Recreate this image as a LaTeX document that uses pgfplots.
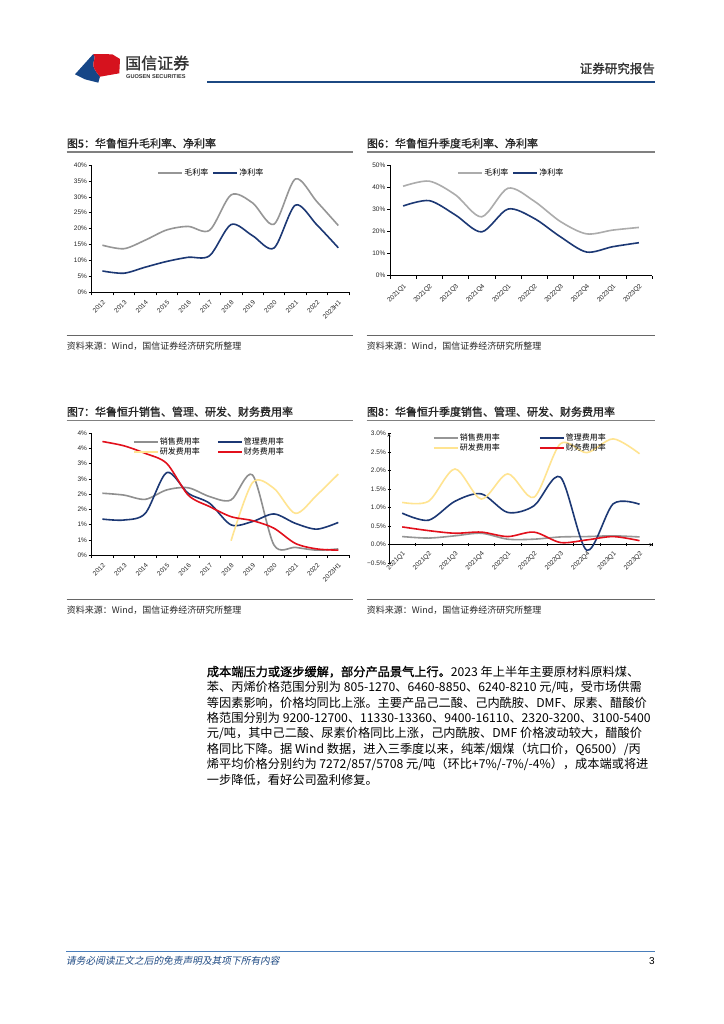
\documentclass[border=0pt]{standalone}
\usepackage{fontspec}
\setmainfont{Liberation Sans}
\newfontfamily\cjk{Noto Sans CJK SC}
\newfontfamily\cjkb[FakeBold=1.2]{Noto Sans CJK SC}
\newfontfamily\cjki[FakeSlant=0.2]{Noto Sans CJK SC}
\usepackage{pgfplots}
\pgfplotsset{compat=1.18}
\definecolor{navy}{RGB}{28,56,116}
\definecolor{gA}{RGB}{150,150,150}
\definecolor{gB}{RGB}{172,172,172}
\definecolor{yel}{RGB}{255,228,145}
\definecolor{redd}{RGB}{226,16,28}
\definecolor{hdrblue}{RGB}{28,72,130}
\definecolor{ftblue}{RGB}{74,126,187}
\definecolor{lgblue}{RGB}{22,70,135}
\definecolor{lgred}{RGB}{214,18,30}
\pgfplotsset{
 rep/.style={
  scale only axis, anchor=south west, clip=false,
  axis lines=left, axis line style={-, black, line width=0.5bp},
  tick align=outside,
  major tick length=3bp, minor tick length=3bp,
  major x tick style={draw=none},
  minor x tick style={black, line width=0.5bp},
  y tick style={black, line width=0.5bp},
  tick label style={font=\fontsize{6.5bp}{7bp}\selectfont, text=black!85},
  /pgf/number format/assume math mode=true,
  xticklabel style={rotate=45, anchor=north east, inner sep=1bp},
  xticklabel shift=3bp,
  yticklabel style={inner sep=1.5bp},
  every axis plot/.append style={line width=1.6bp, smooth, tension=0.5, mark=none},
  legend style={draw=none, fill=none, font=\cjk\fontsize{8bp}{8.5bp}\selectfont,
    inner sep=0bp, nodes={inner sep=1bp}},
  legend cell align=left,
  legend image code/.code={\draw[##1, line width=2bp] (0bp,0bp) -- (24bp,0bp);},
 }
}
\begin{document}
\begin{tikzpicture}[x=1bp,y=1bp]
\path[use as bounding box, fill=white] (0,0) rectangle (724,-1024);
% ---------- header ----------
\fill[lgblue] (75,-74.3) -- (93.3,-54) .. controls (97,-58) and (92,-62) .. (93.3,-66) .. controls (94.5,-70) and (97,-73) .. (100,-76.7) -- (98.3,-82.7) -- (85,-79.3) -- cycle;
\fill[lgred] (93.3,-54) -- (112.3,-54.3) -- (120,-59) -- (119.3,-73.3) -- (100,-76.7) .. controls (97,-73) and (94.5,-70) .. (93.3,-66) .. controls (92,-62) and (97,-58) .. (93.3,-54) -- cycle;
\node[anchor=west, inner sep=0, text=black!80] at (125,-63) {\cjkb\fontsize{16bp}{17bp}\selectfont 国信证券};
\node[anchor=west, inner sep=0, text=black!80] at (126,-76.5) {\fontsize{5.6bp}{6bp}\selectfont\bfseries GUOSEN SECURITIES};
\draw[hdrblue, line width=2bp] (207,-82) -- (655,-82);
\node[anchor=east, inner sep=0, text=black!80] at (655,-68.5) {\cjkb\fontsize{12.5bp}{13bp}\selectfont 证券研究报告};
% ---------- titles and sources ----------
\node[anchor=west, inner sep=0, text=black!85] at (66.7,-143.3) {\cjkb\fontsize{11bp}{12bp}\selectfont 图5：华鲁恒升毛利率、净利率};
\node[anchor=west, inner sep=0, text=black!85] at (366.7,-143.3) {\cjkb\fontsize{11bp}{12bp}\selectfont 图6：华鲁恒升季度毛利率、净利率};
\node[anchor=west, inner sep=0, text=black!85] at (66.7,-411.7) {\cjkb\fontsize{11bp}{12bp}\selectfont 图7：华鲁恒升销售、管理、研发、财务费用率};
\node[anchor=west, inner sep=0, text=black!85] at (366.7,-411.7) {\cjkb\fontsize{11bp}{12bp}\selectfont 图8：华鲁恒升季度销售、管理、研发、财务费用率};
\draw[black!50, line width=1.5bp] (66.7,-152) -- (352.7,-152);
\draw[black!50, line width=1.5bp] (366.7,-152) -- (655,-152);
\draw[black!50, line width=1.5bp] (66.7,-420.7) -- (352.7,-420.7);
\draw[black!50, line width=1.5bp] (366.7,-420.7) -- (655,-420.7);
\draw[black!60, line width=0.7bp] (66.7,-335.3) -- (352.7,-335.3);
\draw[black!60, line width=0.7bp] (366.7,-335.3) -- (655,-335.3);
\draw[black!60, line width=0.7bp] (66.7,-599.3) -- (352.7,-599.3);
\draw[black!60, line width=0.7bp] (366.7,-599.3) -- (655,-599.3);
\foreach \xx/\yy in {66.7/-346, 366.7/-346, 66.7/-610, 366.7/-610}
  \node[anchor=west, inner sep=0, text=black!85] at (\xx,\yy) {\cjk\fontsize{9bp}{10bp}\selectfont 资料来源：Wind，国信证券经济研究所整理};
% ---------- chart 5 ----------
\begin{axis}[rep, at={(91.7bp,-292.3bp)}, width=257.3bp, height=127.3bp,
  xmin=-0.5, xmax=11.5, ymin=0, ymax=40,
  xtick={0,...,11}, minor xtick={-0.5,0.5,...,11.5},
  xticklabels={2012,2013,2014,2015,2016,2017,2018,2019,2020,2021,2022,2023H1},
  ytick={0,5,...,40}, yticklabels={0\%,5\%,10\%,15\%,20\%,25\%,30\%,35\%,40\%},
  legend columns=2, legend style={at={(0.254,0.94)}, anchor=west,
    /tikz/every even column/.append style={column sep=3bp}}]
\addplot[gA] coordinates {(0,14.8) (1,13.7) (2,16.4) (3,19.6) (4,20.7) (5,19.5) (6,30.6) (7,28.1) (8,21.4) (9,35.6) (10,28.5) (11,21.0)};
\addlegendentry{毛利率}
\addplot[navy] coordinates {(0,6.7) (1,6.0) (2,7.9) (3,9.7) (4,11.0) (5,11.5) (6,21.3) (7,17.8) (8,13.9) (9,27.4) (10,21.2) (11,14.0)};
\addlegendentry{净利率}
\end{axis}
% ---------- chart 6 ----------
\begin{axis}[rep, at={(390bp,-275.7bp)}, width=262bp, height=110.7bp,
  xmin=-0.5, xmax=9.5, ymin=0, ymax=50,
  xtick={0,...,9}, minor xtick={-0.5,0.5,...,9.5},
  xticklabels={2021Q1,2021Q2,2021Q3,2021Q4,2022Q1,2022Q2,2022Q3,2022Q4,2023Q1,2023Q2},
  ytick={0,10,...,50}, yticklabels={0\%,10\%,20\%,30\%,40\%,50\%},
  legend columns=2, legend style={at={(0.256,0.93)}, anchor=west,
    /tikz/every even column/.append style={column sep=3bp}}]
\addplot[gB] coordinates {(0,40.4) (1,42.7) (2,36.5) (3,26.6) (4,39.5) (5,33.7) (6,24.5) (7,18.9) (8,20.6) (9,21.8)};
\addlegendentry{毛利率}
\addplot[navy] coordinates {(0,31.5) (1,33.9) (2,27.4) (3,19.8) (4,30.1) (5,25.9) (6,17.6) (7,10.7) (8,13.1) (9,14.9)};
\addlegendentry{净利率}
\end{axis}
% ---------- chart 7 ----------
\begin{axis}[rep, at={(91.7bp,-555bp)}, width=257.3bp, height=121.7bp,
  xmin=-0.5, xmax=11.5, ymin=0, ymax=4,
  xtick={0,...,11}, minor xtick={-0.5,0.5,...,11.5},
  xticklabels={2012,2013,2014,2015,2016,2017,2018,2019,2020,2021,2022,2023H1},
  ytick={0,0.5,...,4}, yticklabels={0\%,1\%,1\%,2\%,2\%,3\%,3\%,4\%,4\%},
  legend columns=2, legend style={at={(0.159,0.931)}, anchor=north west, yshift=5bp,
    /tikz/every even column/.append style={column sep=16bp}}]
\addplot[gA!95!black] coordinates {(0,2.03) (1,1.97) (2,1.83) (3,2.14) (4,2.21) (5,1.92) (6,1.81) (7,2.63) (8,0.33) (9,0.25) (10,0.16) (11,0.20)};
\addlegendentry{销售费用率}
\addplot[navy] coordinates {(0,1.18) (1,1.15) (2,1.37) (3,2.71) (4,2.03) (5,1.70) (6,0.99) (7,1.10) (8,1.35) (9,1.04) (10,0.85) (11,1.07)};
\addlegendentry{管理费用率}
\addplot[yel] coordinates {(6,0.47) (7,2.38) (8,2.19) (9,1.37) (10,1.97) (11,2.66)};
\addlegendentry{研发费用率}
\addplot[redd] coordinates {(0,3.73) (1,3.59) (2,3.34) (3,3.01) (4,1.97) (5,1.59) (6,1.26) (7,1.13) (8,0.88) (9,0.38) (10,0.20) (11,0.16)};
\addlegendentry{财务费用率}
\end{axis}
% ---------- chart 8 ----------
\begin{axis}[rep, at={(389bp,-563.3bp)}, width=263.7bp, height=130bp,
  axis x line=middle, axis y line=left,
  xmin=-0.5, xmax=9.5, ymin=-0.5, ymax=3,
  xtick={0,...,9}, minor xtick={-0.5,0.5,...,9.5},
  xticklabels={2021Q1,2021Q2,2021Q3,2021Q4,2022Q1,2022Q2,2022Q3,2022Q4,2023Q1,2023Q2},
  ytick={-0.5,0,...,3}, yticklabels={−0.5\%,0.0\%,0.5\%,1.0\%,1.5\%,2.0\%,2.5\%,3.0\%},
  legend columns=2, legend style={at={(0.166,0.992)}, anchor=north west, yshift=2bp,
    /tikz/every even column/.append style={column sep=38bp}}]
\addplot[gA] coordinates {(0,0.22) (1,0.18) (2,0.24) (3,0.31) (4,0.15) (5,0.15) (6,0.21) (7,0.22) (8,0.24) (9,0.21)};
\addlegendentry{销售费用率}
\addplot[navy] coordinates {(0,0.85) (1,0.66) (2,1.17) (3,1.37) (4,0.87) (5,1.05) (6,1.82) (7,-0.15) (8,1.10) (9,1.09)};
\addlegendentry{管理费用率}
\addplot[yel] coordinates {(0,1.14) (1,1.17) (2,2.04) (3,1.23) (4,1.91) (5,1.28) (6,2.72) (7,2.48) (8,2.85) (9,2.45)};
\addlegendentry{研发费用率}
\addplot[redd] coordinates {(0,0.48) (1,0.38) (2,0.31) (3,0.34) (4,0.22) (5,0.34) (6,0.06) (7,0.13) (8,0.22) (9,0.11)};
\addlegendentry{财务费用率}
\end{axis}
% ---------- body text ----------
\begin{scope}[every node/.style={anchor=west, inner sep=0, text=black}]
\node at (206.7,-671.7) {\fontsize{12.2bp}{14bp}\selectfont{\cjkb 成本端压力或逐步缓解，部分产品景气上行。}\cjk 2023 年上半年主要原材料原料煤、};
\node at (206.7,-687.3) {\cjk\fontsize{12.2bp}{14bp}\selectfont 苯、丙烯价格范围分别为 805-1270、6460-8850、6240-8210 元/吨，受市场供需};
\node at (206.7,-702.7) {\cjk\fontsize{12.2bp}{14bp}\selectfont 等因素影响，价格均同比上涨。主要产品己二酸、己内酰胺、DMF、尿素、醋酸价};
\node at (206.7,-718.3) {\cjk\fontsize{12.2bp}{14bp}\selectfont 格范围分别为 9200-12700、11330-13360、9400-16110、2320-3200、3100-5400};
\node at (206.7,-733.7) {\cjk\fontsize{12.2bp}{14bp}\selectfont 元/吨，其中己二酸、尿素价格同比上涨，己内酰胺、DMF 价格波动较大，醋酸价};
\node at (206.7,-749.0) {\cjk\fontsize{12.2bp}{14bp}\selectfont 格同比下降。据 Wind 数据，进入三季度以来，纯苯/烟煤（坑口价，Q6500）/丙};
\node at (206.7,-764.7) {\cjk\fontsize{12.2bp}{14bp}\selectfont 烯平均价格分别约为 7272/857/5708 元/吨（环比+7\%/-7\%/-4\%），成本端或将进};
\node at (206.7,-780.0) {\cjk\fontsize{12.2bp}{14bp}\selectfont 一步降低，看好公司盈利修复。};
\end{scope}
% ---------- footer ----------
\draw[ftblue, line width=0.8bp] (66,-951.7) -- (655,-951.7);
\node[anchor=west, inner sep=0, text=hdrblue] at (66,-961) {\cjki\fontsize{9.7bp}{10bp}\selectfont 请务必阅读正文之后的免责声明及其项下所有内容};
\node[anchor=east, inner sep=0, text=black] at (655,-961) {\fontsize{10bp}{11bp}\selectfont 3};
\end{tikzpicture}
\end{document}
